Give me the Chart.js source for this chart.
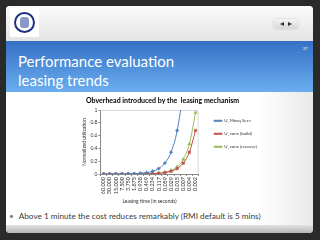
<!DOCTYPE html>
<html><head><meta charset="utf-8">
<script src="https://cdn.jsdelivr.net/npm/chart.js@4.4.1/dist/chart.umd.min.js"></script>
<style>
html,body{margin:0;padding:0;}
body{width:320px;height:240px;overflow:hidden;background:#2a2a2a;position:relative;font-family:Lato,"Open Sans",sans-serif;}
.abs{position:absolute;}
#slide{left:6px;top:6px;width:307px;height:227px;border-radius:4px;overflow:hidden;background:linear-gradient(to right,#ffffff 82%,#e9e9e9 100%);}
#header{left:0;top:0;width:307px;height:35px;background:linear-gradient(#fbfbfb,#e3e3e3);}
#band{left:0;top:35px;width:307px;height:51px;background:linear-gradient(#3570c6,#6aaeee);}
#footer{left:0;top:219px;width:307px;height:8px;background:linear-gradient(#e2e2e2,#b5b5b5);}
#logo{left:4px;top:2px;width:29px;height:29px;background:#fff;}
#ring{left:4px;top:4px;width:17px;height:17px;border:2.5px solid #1c2f80;border-radius:50%;background:#fff;}
#ringin{left:4px;top:3px;width:9px;height:11px;background:#8a98c8;border-radius:3px;}
#nav{left:268px;top:13px;width:24px;height:10px;border-radius:3px;background:linear-gradient(#f4f4f4,#d6d6d6);box-shadow:0 0 2px #bbb;}
.tri{position:absolute;top:2.5px;width:0;height:0;border-top:2.5px solid transparent;border-bottom:2.5px solid transparent;}
#tl{left:6px;border-right:4px solid #333;}
#tr{left:14px;border-left:4px solid #333;}
.title{left:12px;color:#fff;font-family:Lato,sans-serif;font-size:15px;line-height:18px;white-space:nowrap;}
#num{left:297px;top:40px;color:#fff;font-size:4px;line-height:5px;}
#chartbg{left:80px;top:95px;width:178px;height:111px;background:#fff;}
#bullet{color:#3a3a3a;font-size:8.2px;line-height:10px;white-space:nowrap;}
#bullet span{color:#777;margin-right:5px;}
#cv{position:absolute;left:78px;top:94px;}
</style></head>
<body>
<div id="slide" class="abs">
  <div id="header" class="abs">
    <div id="logo" class="abs"><div id="ring" class="abs"><div id="ringin" class="abs"></div></div></div>
    <div id="nav" class="abs"><div id="tl" class="tri"></div><div id="tr" class="tri"></div></div>
  </div>
  <div id="band" class="abs">
    <div id="num" class="abs" style="top:5px;">27</div>
  </div>
  <div class="abs title" style="top:46px;">Performance evaluation</div>
  <div class="abs title" style="top:65px;">leasing trends</div>
  <div id="footer" class="abs"></div>
</div>
<div id="chartbg" class="abs"></div>
<canvas id="cv" width="191" height="114"></canvas>
<div id="bullet" class="abs" style="top:211px;left:9px;"><span>•</span>Above 1 minute the cost reduces remarkably (RMI default is 5 mins)</div>
<script>
// ---- data ----
const leasingTimes = ["60.000","30.000","15.000","7.500","3.750","1.875","0.938","0.469","0.234","0.117","0.059","0.029","0.015","0.007","0.004","0.002"];
const uMosqServ    = [0.0002,0.0003,0.0007,0.0013,0.0027,0.0053,0.011,0.021,0.042,0.085,0.17,0.34,0.68,1.36,2.72,5.44];
const uConsBuild   = [0,0.0001,0.0001,0.0002,0.0003,0.0007,0.0013,0.0027,0.0053,0.011,0.021,0.042,0.085,0.17,0.34,0.68];
const uConsRecover = [0,0.0001,0.0001,0.0002,0.0004,0.0009,0.0018,0.0035,0.007,0.014,0.028,0.055,0.11,0.23,0.47,0.96];
const seriesNames  = ["U_Mosq Serv","U_cons (build)","U_cons (recover)"];
const chartTitle   = "Obverhead introduced by the  leasing mechanism";
const xTitle       = "Leasing time (in seconds)";
const yTitle       = "Normalized utilization";

const FONT = "Lato";
const W = 191, PAD_R = 2, CHART_LEFT = 22.5, CHART_RIGHT = 120.6, PAD_L = 8;
const LEG_FONT = 4.5, LEG_BOX = 8, LEG_PAD = 8.5;
const mctx = document.createElement('canvas').getContext('2d');
mctx.font = LEG_FONT + 'px ' + FONT;
const T = Math.max(...seriesNames.map(s => mctx.measureText(s).width));
const gapW = Math.max(0, (W - PAD_R) - 10 - LEG_PAD - (LEG_BOX + LEG_FONT/2 + T) - CHART_RIGHT);

const plotFrame = {
  id: 'plotFrame',
  beforeDatasetsDraw(chart) {
    const {ctx, chartArea: a} = chart;
    ctx.save();
    ctx.strokeStyle = '#d9d9d9';
    ctx.lineWidth = 1;
    ctx.beginPath();
    ctx.moveTo(a.left, a.top + 0.5);
    ctx.lineTo(a.right - 0.5, a.top + 0.5);
    ctx.lineTo(a.right - 0.5, a.bottom);
    ctx.stroke();
    ctx.restore();
  }
};

const mk = (label, data, color, style) => ({
  label, data,
  borderColor: color, backgroundColor: color,
  borderWidth: 1, pointStyle: style, pointRadius: style === 'triangle' ? 2 : 1.7,
  pointBorderWidth: 0.5, pointBackgroundColor: color, pointBorderColor: color,
  cubicInterpolationMode: 'monotone', fill: false
});

new Chart(document.getElementById('cv'), {
  type: 'line',
  data: {
    labels: leasingTimes,
    datasets: [
      mk(seriesNames[0], uMosqServ, '#4F81BD', 'rectRot'),
      mk(seriesNames[1], uConsBuild, '#C0504D', 'rect'),
      mk(seriesNames[2], uConsRecover, '#9BBB59', 'triangle')
    ]
  },
  options: {
    responsive: false, animation: false, devicePixelRatio: 1,
    layout: {padding: {left: PAD_L, right: PAD_R, top: 2, bottom: 0}},
    plugins: {
      tooltip: {enabled: false},
      title: {display: true, text: chartTitle, align: 'start', color: '#000',
              font: {family: FONT, size: 7, weight: 'bold'}, padding: {top: 0.5, bottom: 5.1}},
      legend: {position: 'right', align: 'start', fullSize: false, maxWidth: 200,
               labels: {boxWidth: LEG_BOX, boxHeight: 1, padding: LEG_PAD, color: '#333',
                        font: {family: FONT, size: LEG_FONT}}}
    },
    scales: {
      x: {
        offset: true,
        grid: {display: true, drawOnChartArea: false, drawTicks: true, tickLength: 2, color: '#888', offset: true},
        border: {display: true, color: '#888', width: 1},
        ticks: {autoSkip: false, minRotation: 90, maxRotation: 90, padding: 1, color: '#333',
                font: {family: FONT, size: 5.5}},
        title: {display: true, text: xTitle, color: '#333', font: {family: FONT, size: 5}, padding: {top: 0, bottom: 4}},
        afterFit: s => { s.height = 34; }
      },
      y: {
        min: 0, max: 1,
        grid: {display: true, drawOnChartArea: false, drawTicks: true, tickLength: 2, color: '#888'},
        border: {display: true, color: '#888', width: 1},
        ticks: {stepSize: 0.1, padding: 1, color: '#333', font: {family: FONT, size: 5},
                callback: v => String(+v.toFixed(1))},
        title: {display: true, text: yTitle, color: '#333', font: {family: FONT, size: 5}, padding: {top: -5, bottom: 0}},
        afterFit: s => { s.width = CHART_LEFT - PAD_L; }
      },
      y2: {
        position: 'right', display: true, min: 0, max: 1,
        grid: {display: false}, border: {display: false}, ticks: {display: false},
        afterFit: s => { s.width = gapW; }
      }
    }
  },
  plugins: [plotFrame]
});
</script>
</body></html>
